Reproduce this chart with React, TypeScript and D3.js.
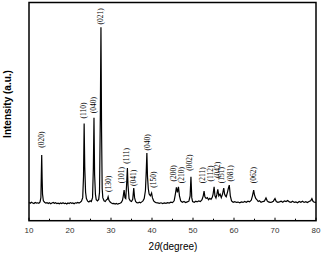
import React from "react";
import * as d3 from "d3";

const angles: number[] = [
  10.0, 10.3, 10.6, 10.9, 11.2, 11.5, 11.8, 12.1, 12.4, 12.7, 12.9, 13.0, 13.1, 13.2, 13.3, 13.5, 13.8, 14.1, 14.4, 14.7,
  15.0, 15.3, 15.6, 15.9, 16.2, 16.5, 16.8, 17.1, 17.4, 17.7, 18.0, 18.3, 18.6, 18.9, 19.2, 19.5, 19.8, 20.1, 20.4, 20.7,
  21.0, 21.3, 21.6, 21.9, 22.2, 22.5, 22.8, 23.1, 23.3, 23.45, 23.6, 23.8, 24.0, 24.3, 24.6, 24.9, 25.2, 25.5, 25.7, 25.85,
  26.0, 26.2, 26.4, 26.7, 27.0, 27.2, 27.4, 27.55, 27.7, 27.85, 28.0, 28.3, 28.6, 28.9, 29.1, 29.3, 29.5, 29.8, 30.1, 30.4,
  30.7, 31.0, 31.3, 31.6, 31.9, 32.2, 32.5, 32.8, 33.0, 33.2, 33.4, 33.6, 33.8, 34.0, 34.15, 34.4, 34.7, 35.0, 35.3, 35.55,
  35.75, 36.0, 36.3, 36.6, 36.9, 37.2, 37.5, 37.8, 38.1, 38.4, 38.6, 38.75, 38.9, 39.1, 39.3, 39.6, 39.9, 40.1, 40.4, 40.7,
  41.0, 41.4, 41.8, 42.2, 42.6, 43.0, 43.4, 43.8, 44.2, 44.6, 45.0, 45.4, 45.7, 45.95, 46.2, 46.45, 46.7, 47.0, 47.4, 47.8,
  48.2, 48.6, 49.0, 49.3, 49.5, 49.7, 49.9, 50.3, 50.7, 51.0, 51.4, 51.8, 52.2, 52.5, 52.7, 52.9, 53.2, 53.5, 53.8, 54.1,
  54.4, 54.7, 54.9, 55.15, 55.35, 55.6, 55.8, 56.05, 56.3, 56.6, 56.9, 57.2, 57.5, 57.7, 57.9, 58.1, 58.4, 58.6, 58.85, 59.1,
  59.4, 59.8, 60.2, 60.6, 61.0, 61.4, 61.8, 62.2, 62.6, 63.0, 63.4, 63.8, 64.2, 64.5, 64.8, 65.0, 65.3, 65.6, 65.9, 66.2,
  66.6, 67.0, 67.4, 67.8, 68.1, 68.4, 68.8, 69.2, 69.6, 70.0, 70.3, 70.7, 71.1, 71.5, 71.9, 72.3, 72.7, 73.1, 73.5, 73.9,
  74.3, 74.7, 75.1, 75.5, 75.9, 76.3, 76.7, 77.1, 77.5, 77.9, 78.3, 78.7, 79.0, 79.3, 79.6, 80.0,
];

const intensities: number[] = [
  102, 98, 104, 100, 97, 103, 99, 101, 98, 106, 130, 250, 370, 240, 150, 112, 104, 99, 102, 97,
  101, 96, 100, 103, 98, 101, 96, 99, 95, 100, 97, 101, 96, 99, 94, 100, 97, 102, 98, 100,
  96, 101, 99, 103, 100, 104, 110, 130, 250, 548, 300, 160, 125, 110, 105, 112, 108, 130, 300, 580,
  260, 150, 118, 112, 120, 160, 600, 1090, 500, 180, 130, 112, 108, 118, 120, 135, 115, 105, 100, 96,
  98, 94, 97, 93, 96, 98, 102, 115, 140, 173, 130, 125, 200, 297, 200, 125, 112, 108, 120, 184,
  130, 108, 102, 100, 104, 101, 106, 112, 125, 170, 280, 381, 250, 180, 150, 140, 156, 130, 112, 106,
  102, 100, 98, 101, 97, 100, 98, 102, 99, 104, 102, 112, 150, 188, 160, 191, 140, 112, 104, 108,
  102, 106, 110, 140, 248, 130, 108, 104, 110, 106, 112, 108, 118, 140, 167, 135, 125, 130, 118, 126,
  120, 132, 150, 191, 140, 128, 145, 177, 140, 150, 130, 150, 184, 150, 140, 135, 160, 180, 201, 140,
  112, 104, 107, 103, 105, 101, 106, 103, 108, 104, 110, 106, 115, 140, 173, 145, 125, 118, 108, 112,
  104, 108, 110, 128, 112, 106, 103, 105, 110, 125, 108, 104, 106, 110, 104, 112, 108, 114, 106, 104,
  110, 103, 106, 101, 108, 104, 110, 103, 107, 102, 108, 112, 124, 108, 104, 103,
];

const peakLabels: string[] = [
  "(020)", "(110)", "(040)", "(021)", "(130)", "(101)", "(111)", "(041)", "(040)", "(150)",
  "(200)", "(210)", "(002)", "(211)", "(112)", "(042)", "(151)", "(081)", "(062)",
];
const labelAngles: number[] = [
  13.0, 23.4, 25.7, 27.5, 29.3, 32.6, 33.8, 35.5, 38.9, 40.3,
  45.3, 47.1, 49.1, 52.4, 54.2, 55.9, 57.0, 59.2, 64.7,
];
const labelBaseIntensities: number[] = [
  400, 565, 595, 1095, 150, 200, 310, 185, 385, 175,
  210, 200, 270, 200, 210, 230, 200, 210, 200,
];

const xTicks: number[] = [10, 20, 30, 40, 50, 60, 70, 80];
const xMinorTicks: number[] = [15, 25, 35, 45, 55, 65, 75];

export default function App() {
  const W = 336;
  const H = 266;
  const left = 29;
  const right = 316;
  const top = 2.5;
  const bottom = 220.7;

  const x = d3.scaleLinear().domain([10, 80]).range([left, right]);
  const y = d3.scaleLinear().domain([0, 1230]).range([bottom, top]);

  const pts: [number, number][] = angles.map((a, i) => [a, intensities[i]]);
  const line = d3
    .line<[number, number]>()
    .x((d) => x(d[0]))
    .y((d) => y(d[1]));

  return (
    <svg
      width={W}
      height={H}
      style={{ position: "absolute", left: 0, top: 0, background: "#fff" }}
    >
      <rect x={0} y={0} width={W} height={H} fill="#fff" />
      <path d={line(pts) || ""} fill="none" stroke="#000" strokeWidth={1.2} strokeLinejoin="miter" />
      {xTicks.map((t) => (
        <g key={"t" + t}>
          <line x1={x(t)} x2={x(t)} y1={bottom} y2={bottom - 3} stroke="#000" strokeWidth={1} />
          <text
            x={x(t)}
            y={bottom + 12}
            textAnchor="middle"
            fontFamily="Arial, 'Liberation Sans', sans-serif"
            fontSize={8}
            fill="#333"
          >
            {t}
          </text>
        </g>
      ))}
      {xMinorTicks.map((t) => (
        <line key={"m" + t} x1={x(t)} x2={x(t)} y1={bottom} y2={bottom - 2} stroke="#000" strokeWidth={1} />
      ))}
      <rect
        x={left}
        y={top}
        width={right - left}
        height={bottom - top}
        fill="none"
        stroke="#000"
        strokeWidth={1.5}
      />
      {peakLabels.map((lab, i) => {
        const lx = x(labelAngles[i]);
        const ly = y(labelBaseIntensities[i]) - 2;
        return (
          <text
            key={"l" + i}
            transform={`translate(${lx + 2.5},${ly}) rotate(-90)`}
            fontFamily="'Times New Roman', 'Liberation Serif', serif"
            fontSize={7.5}
            fill="#000"
          >
            {lab}
          </text>
        );
      })}
      <text
        transform={`translate(11,104) rotate(-90)`}
        textAnchor="middle"
        fontFamily="Arial, 'Liberation Sans', sans-serif"
        fontWeight="bold"
        fontSize={10}
        fill="#000"
      >
        Intensity (a.u.)
      </text>
      <text
        x={173}
        y={250}
        textAnchor="middle"
        fontFamily="Arial, 'Liberation Sans', sans-serif"
        fontSize={10}
        fill="#000"
      >
        2<tspan fontStyle="italic">θ</tspan>(degree)
      </text>
    </svg>
  );
}
